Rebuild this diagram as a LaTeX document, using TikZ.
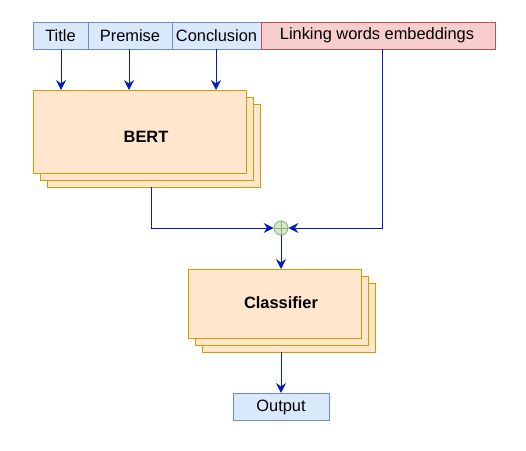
\documentclass[tikz,border=0pt]{standalone}
\usepackage{fontspec}
\setmainfont{Liberation Sans}
\usetikzlibrary{arrows.meta,calc}
\definecolor{bfill}{HTML}{DAE8FC}
\definecolor{bline}{HTML}{6C8EBF}
\definecolor{rfill}{HTML}{F8CECC}
\definecolor{rline}{HTML}{B85450}
\definecolor{ofill}{HTML}{FFE6CC}
\definecolor{oline}{HTML}{D79B00}
\definecolor{gfill}{HTML}{D5E8D4}
\definecolor{gline}{HTML}{82B366}
\definecolor{arr}{HTML}{001DBC}
\tikzset{
  x=1pt,y=-1pt,
  lab/.style={font=\fontsize{16.4}{19}\selectfont},
  blab/.style={font=\fontsize{16.4}{19}\selectfont\bfseries},
  bluebox/.style={draw=bline,fill=bfill,line width=0.9pt},
  redbox/.style={draw=rline,fill=rfill,line width=0.9pt},
  orbox/.style={draw=oline,fill=ofill,line width=0.9pt},
  conn/.style={draw=arr,line width=1pt,-{Stealth[length=10pt,width=10pt,inset=3.5pt]}},
}
\begin{document}
\begin{tikzpicture}
\useasboundingbox (0,0) rectangle (526,450);
% top boxes
\draw[bluebox] (33,22) rectangle (88,49);
\node[lab] (title) at (60.5,35.5) {Title};
\draw[bluebox] (88,22) rectangle (172,49);
\node[lab] (premise) at (130,35.5) {Premise};
\draw[bluebox] (172,22) rectangle (261,49);
\node[lab] (concl) at (216.5,35.5) {Conclusion};
\draw[redbox] (261,22) rectangle (495,49);
\node[lab] (link) at (377,35.5) {Linking words embeddings};
\coordinate (titleS) at (61,49);
\coordinate (premS) at (129,49);
\coordinate (conclS) at (216,49);
\coordinate (linkS) at (382,49);
% BERT stack
\draw[orbox] (47,104) rectangle (260,187);
\draw[orbox] (40,97) rectangle (253,180);
\draw[orbox] (33,90) rectangle (246,173);
\node[blab] (bert) at (146,137) {BERT};
\coordinate (bertS) at (151,187);
% arrows into BERT
\draw[conn] (titleS) -- (61,90);
\draw[conn] (premS) -- (129,90);
\draw[conn] (conclS) -- (216,90);
% plus circle
\node[circle,draw=gline,fill=gfill,line width=0.8pt,minimum size=14pt,inner sep=0pt] (plus) at (281,228) {};
\draw[gline,line width=0.8pt] (plus.north) -- (plus.south) (plus.west) -- (plus.east);
\draw[conn] (bertS) |- (plus.west);
\draw[conn] (linkS) |- (plus.east);
% Classifier stack
\draw[orbox] (202,283) rectangle (375,352);
\draw[orbox] (195,276) rectangle (368,345);
\draw[orbox] (188,269) rectangle (361,338);
\node[blab] (cls) at (281,303) {Classifier};
\coordinate (clsS) at (281,352);
\draw[conn] (plus.south) -- (281,269);
% Output
\draw[bluebox] (233,393) rectangle (329,420);
\node[lab] (out) at (281,407) {Output};
\draw[conn] (clsS) -- (281,393);
\end{tikzpicture}
\end{document}
